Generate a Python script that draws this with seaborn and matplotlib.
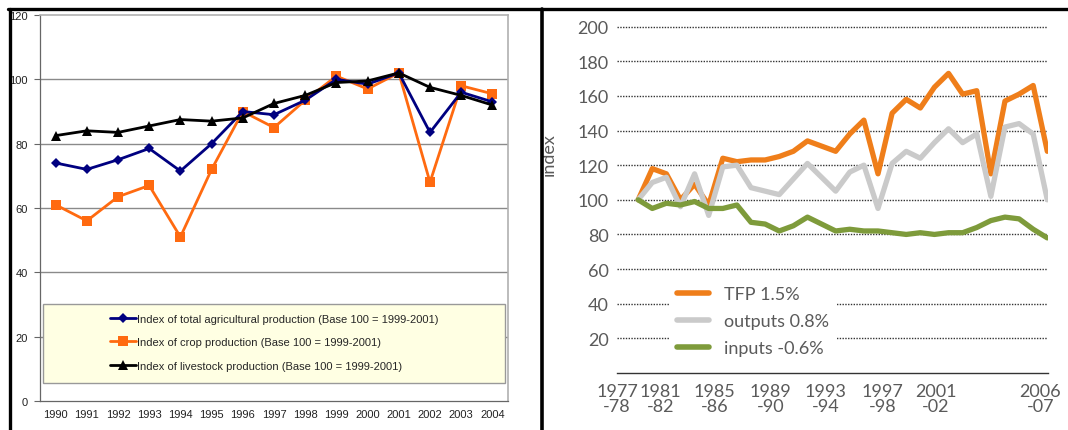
import matplotlib
matplotlib.use("Agg")
import pandas as pd
import matplotlib.pyplot as plt
import seaborn as sns
from matplotlib.lines import Line2D
from matplotlib.patches import Rectangle

# ---------------- data: left panel (production indices) ----------------
years_left = list(range(1990, 2005))
total_agri = [74, 72, 75, 78.5, 71.5, 80, 90, 89, 93.5, 100, 98.5, 102, 83.5, 96, 93]
crop_prod = [61, 56, 63.5, 67, 51, 72, 90, 85, 93.5, 101, 97, 102, 68, 98, 95.5]
livestock = [82.5, 84, 83.5, 85.5, 87.5, 87, 88, 92.5, 95, 99, 99.5, 102, 97.5, 95, 92]
left_names = ["Index of total agricultural production (Base 100 = 1999-2001)",
              "Index of crop production (Base 100 = 1999-2001)",
              "Index of livestock production (Base 100 = 1999-2001)"]

# ---------------- data: right panel (TFP, outputs, inputs) ----------------
fy_start = list(range(1977, 2007))
tfp = [100, 118, 115, 100, 109, 97, 124, 122, 123, 123, 125, 128, 134, 131, 128,
       138, 146, 115, 150, 158, 153, 165, 173, 161, 163, 115, 157, 161, 166, 128]
outputs = [100, 110, 113, 96, 115, 91, 119, 120, 107, 105, 103, 112, 121, 113, 105,
           116, 120, 95, 121, 128, 124, 133, 141, 133, 138, 102, 142, 144, 138, 100]
inputs = [100, 95, 98, 97, 99, 95, 95, 97, 87, 86, 82, 85, 90, 86, 82,
          83, 82, 82, 81, 80, 81, 80, 81, 81, 84, 88, 90, 89, 83, 78]
right_names = ["TFP 1.5%", "outputs 0.8%", "inputs -0.6%"]
fy_labels = ["1977\n-78", "1981\n-82", "1985\n-86", "1989\n-90",
             "1993\n-94", "1997\n-98", "2001\n-02", "2006\n-07"]

df_left = pd.DataFrame({"year": years_left, "total": total_agri,
                        "crop": crop_prod, "livestock": livestock})
df_right = pd.DataFrame({"fy": fy_start, "tfp": tfp,
                         "outputs": outputs, "inputs": inputs})

sns.set_style("white")
plt.rcParams["font.family"] = ["Liberation Sans", "DejaVu Sans"]

fig = plt.figure(figsize=(10.68, 4.31), dpi=100)

# ======================= left chart =======================
ax1 = fig.add_axes([40 / 1068, 1 - 402 / 431, 468 / 1068, 386 / 431])
for y in range(20, 120, 20):
    ax1.axhline(y, color="#8a8a8a", lw=1.0, zorder=0)

sns.lineplot(data=df_left, x="year", y="total", ax=ax1, color="#000080", lw=2.0,
             marker="D", markersize=5.5, markeredgewidth=0, label=left_names[0], zorder=4)
sns.lineplot(data=df_left, x="year", y="crop", ax=ax1, color="#FF6A10", lw=2.0,
             marker="s", markersize=6.5, markeredgewidth=0, label=left_names[1], zorder=3)
sns.lineplot(data=df_left, x="year", y="livestock", ax=ax1, color="#000000", lw=2.0,
             marker="^", markersize=7, markeredgewidth=0, label=left_names[2], zorder=5)

ax1.set_xlim(1989.5, 2004.5)
ax1.set_ylim(0, 120)
ax1.set_yticks(range(0, 121, 20))
ax1.set_xticks(years_left)
ax1.set_xticks([y + 0.5 for y in range(1989, 2005)], minor=True)
ax1.tick_params(axis="x", which="major", length=0, pad=6, labelsize=8, labelcolor="#222")
ax1.tick_params(axis="x", which="minor", length=4, width=0.8, color="#666", direction="out")
ax1.tick_params(axis="y", length=4, width=0.8, color="#666", direction="out",
                pad=5, labelsize=8, labelcolor="#222", left=True)
ax1.set_xlabel("")
ax1.set_ylabel("")
for side in ["top", "right"]:
    ax1.spines[side].set_color("#b0b0b0")
    ax1.spines[side].set_linewidth(1.2)
for side in ["left", "bottom"]:
    ax1.spines[side].set_color("#666")
    ax1.spines[side].set_linewidth(0.9)

# legend box (light yellow panel)
ax1.add_patch(Rectangle((0.007, 0.047), 0.987, 0.204, transform=ax1.transAxes,
                        facecolor="#FFFFE3", edgecolor="#999", lw=1.0, zorder=2))
leg1 = ax1.legend(loc="center", bbox_to_anchor=(0.5, 0.152), frameon=False,
                  fontsize=8, handlelength=2.4, handletextpad=0.05, labelspacing=1.2)
leg1.set_zorder(6)

# ======================= right chart =======================
ax2 = fig.add_axes([617 / 1068, 1 - 374 / 431, 431 / 1068, 349 / 431])
sns.lineplot(data=df_right, x="fy", y="tfp", ax=ax2, color="#EF7E1A", lw=3.8,
             label=right_names[0], zorder=3)
sns.lineplot(data=df_right, x="fy", y="outputs", ax=ax2, color="#CACACA", lw=3.8,
             label=right_names[1], zorder=4)
sns.lineplot(data=df_right, x="fy", y="inputs", ax=ax2, color="#7E9B3B", lw=3.8,
             label=right_names[2], zorder=5)

ax2.set_xlim(1976.66, 2006.05)
ax2.set_ylim(0, 201.5)
ax2.set_yticks(range(20, 201, 20))
ax2.yaxis.grid(True, color="#333", lw=1.0, ls=(0, (1, 1)))
ax2.set_axisbelow(True)
for side in ["top", "right", "left"]:
    ax2.spines[side].set_visible(False)
ax2.spines["bottom"].set_linestyle((0, (1, 1)))
ax2.spines["bottom"].set_color("#333")
ax2.spines["bottom"].set_linewidth(1.0)

ax2.set_xticks(fy_start, minor=True)
ax2.set_xticks([1975.5, 1978.6, 1982.4, 1986.4, 1990.3, 1994.3, 1998.1, 2005.5])
ax2.set_xticklabels(fy_labels, linespacing=0.95)
ax2.tick_params(axis="x", which="minor", length=4, width=0.9, color="#333", direction="out")
ax2.tick_params(axis="x", which="major", length=0, pad=7, labelsize=13, labelcolor="#5a5a5a")
ax2.tick_params(axis="y", length=0, pad=6, labelsize=13, labelcolor="#5a5a5a")
for lbl in ax2.get_xticklabels() + ax2.get_yticklabels():
    lbl.set_family(["Lato", "DejaVu Sans"])
ax2.set_xlabel("")
ax2.set_ylabel("index", fontsize=13, color="#5a5a5a", family=["Lato", "DejaVu Sans"])
ax2.yaxis.set_label_coords(-0.139, 0.63)

leg2 = ax2.legend(loc="upper left", bbox_to_anchor=(0.099, 0.297), frameon=True,
                  facecolor="white", edgecolor="none", framealpha=1, fancybox=False,
                  handlelength=1.8, handletextpad=0.8, labelspacing=0.6,
                  borderpad=0.45, prop={"family": ["Lato", "DejaVu Sans"], "size": 13})
for t in leg2.get_texts():
    t.set_color("#5a5a5a")
for h in leg2.get_lines():
    h.set_linewidth(4)
leg2.set_zorder(6)

# black frame lines of the page
fig.add_artist(Line2D([8 / 1068, 1], [1 - 10 / 431, 1 - 10 / 431],
                      transform=fig.transFigure, color="black", lw=2.4))
fig.add_artist(Line2D([9.5 / 1068, 9.5 / 1068], [0, 1 - 10 / 431],
                      transform=fig.transFigure, color="black", lw=2.4))
fig.add_artist(Line2D([541.5 / 1068, 541.5 / 1068], [0, 1 - 10 / 431],
                      transform=fig.transFigure, color="black", lw=2.6))

fig.savefig("out.png", dpi=100)
